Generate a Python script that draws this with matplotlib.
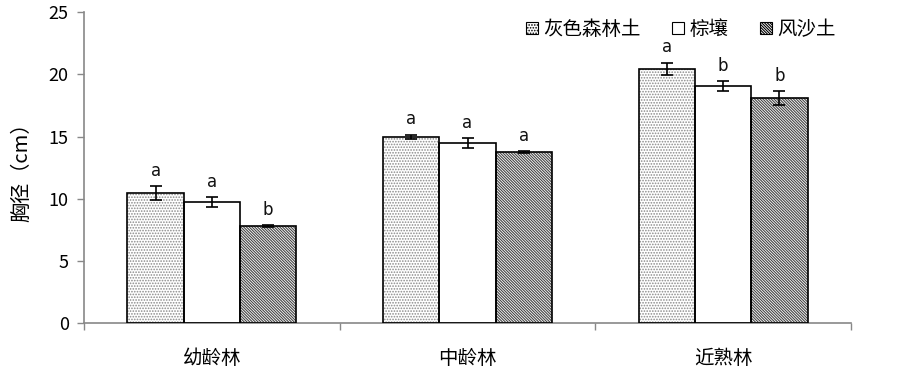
import matplotlib
matplotlib.use("Agg")
import matplotlib.pyplot as plt
import numpy as np
from matplotlib.patches import Patch

plt.rcParams['font.family'] = ['Noto Sans CJK SC', 'DejaVu Sans']
plt.rcParams['hatch.linewidth'] = 0.8

categories = ['幼龄林', '中龄林', '近熟林']
series = ['灰色森林土', '棕壤', '风沙土']
values = [
    [10.45, 14.97, 20.43],
    [9.70, 14.47, 19.05],
    [7.83, 13.77, 18.12],
]
errors = [
    [0.55, 0.18, 0.52],
    [0.40, 0.42, 0.38],
    [0.07, 0.08, 0.55],
]
letters = [
    ['a', 'a', 'a'],
    ['a', 'a', 'b'],
    ['b', 'a', 'b'],
]
ylabel = '胸径（cm）'

hatches = ['......', '', '\\\\\\\\\\\\\\\\\\\\\\\\']
hatch_colors = ['#8a8a8a', 'white', '#454545']

fig = plt.figure(figsize=(9.03, 3.70), dpi=100)
ax = fig.add_axes([0.093, 0.127, 0.8495, 0.84])

x = np.arange(len(categories))
w = 0.22
for i in range(3):
    pos = x + (i - 1) * w
    ax.bar(pos, values[i], width=w, color='white', edgecolor=hatch_colors[i],
           hatch=hatches[i], linewidth=0, zorder=2)
    ax.bar(pos, values[i], width=w, fill=False, edgecolor='black',
           linewidth=1.2, zorder=3)
    ax.errorbar(pos, values[i], yerr=errors[i], fmt='none', ecolor='black',
                elinewidth=1.2, capsize=4, capthick=1.2, zorder=4)
    for p, v, e, t in zip(pos, values[i], errors[i], letters[i]):
        ax.text(p, v + e + 0.5, t, ha='center', va='bottom', fontsize=12,
                family=['DejaVu Sans'], color='#111111')

ax.set_xlim(-0.5, 2.5)
ax.set_ylim(0, 25)
ax.set_yticks([0, 5, 10, 15, 20, 25])
ax.set_xticks(x)
ax.set_xticklabels(categories, fontsize=14)
ax.set_xticks([-0.5, 0.5, 1.5, 2.5], minor=True)
ax.tick_params(axis='x', which='major', length=0, pad=18)
ax.tick_params(axis='x', which='minor', length=5, color='#888888', width=1)
ax.tick_params(axis='y', length=5, color='#888888', width=1, labelsize=13, pad=6)
for s in ['top', 'right']:
    ax.spines[s].set_visible(False)
for s in ['left', 'bottom']:
    ax.spines[s].set_color('#888888')
    ax.spines[s].set_linewidth(1.2)
ax.set_ylabel(ylabel, fontsize=14.5, labelpad=12)

handles = []
for i in range(3):
    handles.append(Patch(facecolor='white', edgecolor=hatch_colors[i],
                         hatch=hatches[i], linewidth=0.8))
leg = ax.legend(handles, series, ncol=3, loc='upper right', bbox_to_anchor=(1.003, 1.035),
                frameon=False, fontsize=14, handlelength=0.6, handleheight=0.6,
                handletextpad=0.3, columnspacing=1.6)
for h in leg.legend_handles:
    h.set_edgecolor('black')

fig.savefig('out.png', dpi=100)
